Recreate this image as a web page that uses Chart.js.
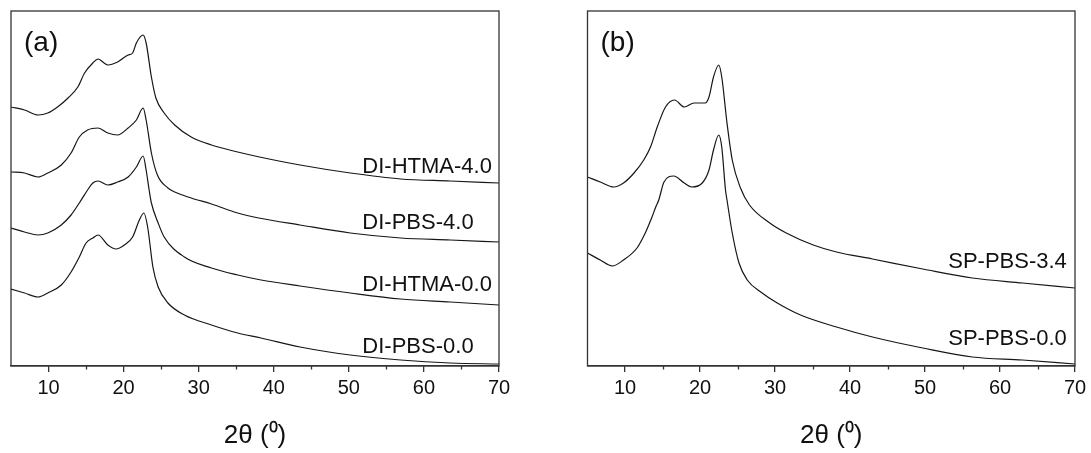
<!DOCTYPE html>
<html><head><meta charset="utf-8">
<script src="https://cdn.jsdelivr.net/npm/chart.js@4.4.0/dist/chart.umd.min.js"></script>
<style>
html,body{margin:0;padding:0;background:#fff;}
#wrap{position:relative;width:1091px;height:453px;overflow:hidden;}
canvas{position:absolute;top:0;}
#ca{left:0;}
#cb{left:545px;}
</style></head><body>
<div id="wrap">
<canvas id="ca" width="545" height="453"></canvas>
<canvas id="cb" width="546" height="453"></canvas>
</div>
<script>
// ---------- DATA (2θ in degrees, intensity in arbitrary units) ----------
const xTickLabels = [10, 20, 30, 40, 50, 60, 70];
const xMinorTicks = [15, 25, 35, 45, 55, 65];

// Panel (a)
const a_HTMA40_x = [5,6.8,8.6,9.9,11.2,12.6,13.9,14.8,15.9,16.6,17.4,17.9,19.2,20.6,21.2,21.7,22.6,23.0,23.7,24.3,25.4,26.8,29.0,31.7,35.2,38.1,43.5,50.2,56.9,63.5,70];
const a_HTMA40_y = [259,256,251,253,259,268,279,293,303,307,303,301,304,311,313,323,331,323,289,268,253,241,229,221,214,209,201,193,187,185,183];

const a_PBS40_x = [5,6.8,8.6,9.9,11.7,13.0,14.1,15.2,16.6,17.9,19.2,20.6,21.7,22.6,23.0,23.7,24.5,25.9,26.8,29.0,31.7,35.2,38.0,43.5,50.2,56.9,63.5,70];
const a_PBS40_y = [194,193,189,193,201,213,229,236,238,233,231,238,246,258,246,213,191,178,174,168,162,153,148,141,133,128,126,124];

const a_HTMA00_x = [5,6.8,8.6,9.9,11.7,13.0,14.1,15.2,15.9,16.6,17.9,19.2,20.6,21.7,22.6,23.0,23.4,23.7,24.6,25.4,28.1,31.7,35.2,38.3,43.5,50.2,56.9,63.5,70];
const a_HTMA00_y = [138,134,131,133,141,151,163,176,183,185,181,184,189,199,210,196,176,163,143,129,109,98,91,86,80,73,67,64,61];

const a_PBS00_x = [5,6.8,8.6,9.9,11.7,13.0,14.1,15.0,15.9,16.6,17.9,19.0,20.1,21.2,22.1,22.7,23.2,23.9,24.6,25.9,28.1,31.7,35.2,38.3,43.5,50.2,56.9,63.5,70];
const a_PBS00_y = [77,73,69,73,81,94,109,123,128,131,121,117,121,129,146,153,139,99,79,63,51,41,33,28,19,11,6,3,2];

// Panel (b)
const b_PBS34_x = [5,6.7,8.5,9.8,11.2,12.5,13.4,14.3,15.4,16.6,17.9,19.2,20.7,21.2,21.8,22.5,22.9,23.6,24.3,25.4,26.6,29.3,31.5,35.1,38.2,43.0,49.7,56.3,63.0,70];
const b_PBS34_y = [189,184,179,183,193,206,219,239,259,266,259,263,263,269,289,301,289,243,206,178,161,143,133,121,114,107,97,88,83,78];

const b_PBS00_x = [5,6.7,8.3,9.8,11.6,12.7,13.6,14.1,14.5,15.2,16.5,17.9,18.9,20.3,21.2,21.8,22.5,22.9,23.4,23.6,24.3,25.2,26.3,28.1,30.3,33.4,38.2,43.0,49.7,56.3,63.0,70];
const b_PBS00_y = [113,106,100,106,118,133,149,159,166,184,190,183,179,183,196,216,231,219,176,166,133,103,86,74,63,51,39,29,18,9,6,2];

// Curve labels (text and anchor in data units: 2θ, intensity)
const a_labels = ['DI-HTMA-4.0', 'DI-PBS-4.0', 'DI-HTMA-0.0', 'DI-PBS-0.0'];
const a_labelX = [51.8, 51.8, 51.8, 51.8];
const a_labelY = [193, 137, 75, 13];
const b_labels = ['SP-PBS-3.4', 'SP-PBS-0.0'];
const b_labelX = [53.1, 53.1];
const b_labelY = [98, 21];

// ---------- RENDERING ----------
const FONT = "'Liberation Sans', Arial, sans-serif";

function pts(xs, ys) { return xs.map((x, i) => ({x: x, y: ys[i]})); }

function deco(letter, labels, lx, ly) {
  return {
    id: 'deco' + letter,
    afterDraw(chart) {
      const ctx = chart.ctx, ca = chart.chartArea;
      const xs = chart.scales.x, ys = chart.scales.y;
      ctx.save();
      // minor ticks
      ctx.strokeStyle = '#333'; ctx.lineWidth = 1.3;
      xMinorTicks.forEach(v => {
        const px = Math.round(xs.getPixelForValue(v)) + 0.5;
        ctx.beginPath(); ctx.moveTo(px, ca.bottom); ctx.lineTo(px, ca.bottom + 3.5); ctx.stroke();
      });
      // frame
      ctx.strokeRect(ca.left, ca.top, ca.right - ca.left, ca.bottom - ca.top);
      // panel letter
      ctx.fillStyle = '#111';
      ctx.font = '28px ' + FONT;
      ctx.textBaseline = 'alphabetic'; ctx.textAlign = 'left';
      ctx.fillText('(' + letter + ')', ca.left + 13, ca.top + 40);
      // curve labels
      ctx.font = '22px ' + FONT;
      labels.forEach((t, i) => {
        ctx.fillText(t, xs.getPixelForValue(lx[i]), ys.getPixelForValue(ly[i]));
      });
      ctx.restore();
    }
  };
}

function makeChart(id, series, padL, padR, letter, labels, lx, ly) {
  return new Chart(document.getElementById(id), {
    type: 'line',
    data: {
      datasets: series.map(s => ({
        data: pts(s[0], s[1]),
        borderColor: '#161616', borderWidth: 1.2,
        pointRadius: 0, cubicInterpolationMode: 'monotone', fill: false
      }))
    },
    options: {
      responsive: false, animation: false, devicePixelRatio: 1,
      layout: {padding: {left: padL, right: padR, top: 11, bottom: 0}},
      plugins: {legend: {display: false}, tooltip: {enabled: false}},
      scales: {
        x: {
          type: 'linear', min: 5, max: 70,
          afterBuildTicks: sc => { sc.ticks = xTickLabels.map(v => ({value: v})); },
          afterFit: sc => { sc.height = 87; },
          grid: {display: true, drawOnChartArea: false, drawTicks: true, tickLength: 6, color: '#333', lineWidth: 1.3},
          border: {display: true, color: '#333', width: 1.3},
          ticks: {color: '#111', font: {family: FONT, size: 20}, padding: 4, maxRotation: 0, autoSkip: false},
          title: {display: true, text: '2θ (⁰)', color: '#111', font: {family: FONT, size: 26}, padding: {top: 0, bottom: 2}}
        },
        y: {type: 'linear', min: 0, max: 355, display: false}
      }
    },
    plugins: [deco(letter, labels, lx, ly)]
  });
}

makeChart('ca', [[a_HTMA40_x, a_HTMA40_y], [a_PBS40_x, a_PBS40_y], [a_HTMA00_x, a_HTMA00_y], [a_PBS00_x, a_PBS00_y]],
  11, 46, 'a', a_labels, a_labelX, a_labelY);
makeChart('cb', [[b_PBS34_x, b_PBS34_y], [b_PBS00_x, b_PBS00_y]],
  42.5, 16, 'b', b_labels, b_labelX, b_labelY);
</script>
</body></html>
